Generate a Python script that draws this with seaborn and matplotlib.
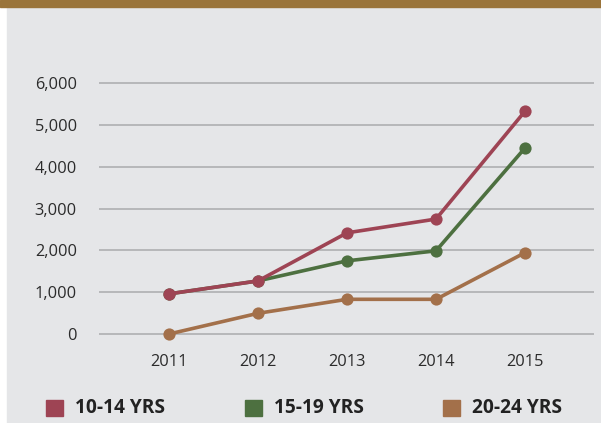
import pandas as pd
import matplotlib.pyplot as plt
from matplotlib.patches import Rectangle
from matplotlib.ticker import FuncFormatter
import seaborn as sns

# values
years = [2011, 2012, 2013, 2014, 2015]
age_10_14 = [960, 1270, 2420, 2750, 5330]
age_15_19 = [960, 1270, 1750, 1990, 4450]
age_20_24 = [0, 495, 830, 830, 1945]
groups = ["10-14 YRS", "15-19 YRS", "20-24 YRS"]
colors = ["#9e4454", "#4d7040", "#a3704a"]

df = pd.DataFrame({
    "year": years * 3,
    "value": age_10_14 + age_15_19 + age_20_24,
    "group": [g for g in groups for _ in years],
})

sns.set_style("white")
plt.rcParams["font.family"] = ["Open Sans", "DejaVu Sans"]

W, H = 601, 423
fig = plt.figure(figsize=(W / 100, H / 100), dpi=100)
fig.patch.set_facecolor("white")

# grey panel + brown band on top
fig.patches.append(Rectangle((7 / W, 0), 1, 1, transform=fig.transFigure,
                             color="#e5e6e8", zorder=-10))
fig.patches.append(Rectangle((0, 1 - 7.5 / H), 1, 7.5 / H, transform=fig.transFigure,
                             color="#9a743a", zorder=-9))

# axes placed in pixels: 0 at y=334, 41.8 px per 1000
left, right = 99, 594
top, bottom = 70, 350
ax = fig.add_axes([left / W, (H - bottom) / H, (right - left) / W, (bottom - top) / H])
ax.set_facecolor("none")

# x: 2011 at 169 px, 2015 at 525 px
px_per_year = (525 - 169) / 4
ax.set_xlim(2011 - (169 - left) / px_per_year, 2015 + (right - 525) / px_per_year)
ax.set_ylim(-(bottom - 334) / 0.0418, (334 - top) / 0.0418)

order = ["20-24 YRS", "15-19 YRS", "10-14 YRS"]
for g in order:
    c = colors[groups.index(g)]
    sns.lineplot(data=df[df["group"] == g], x="year", y="value", ax=ax, color=c,
                 linewidth=2.6, marker="o", markersize=8.8, markeredgewidth=0,
                 legend=False, clip_on=False, zorder=3)

ax.set_yticks(range(0, 7000, 1000))
ax.yaxis.set_major_formatter(FuncFormatter(lambda v, p: f"{int(v):,}"))
ax.set_xticks(years)
ax.set_xticklabels([str(y) for y in years])
ax.grid(axis="y", color="#a9aaac", linewidth=1.1)
ax.set_axisbelow(True)
for s in ax.spines.values():
    s.set_visible(False)
ax.tick_params(length=0, labelsize=11.8, colors="#2b2b2b")
ax.tick_params(axis="y", pad=16)
ax.tick_params(axis="x", pad=3)
ax.set_xlabel("")
ax.set_ylabel("")

# legend row
leg_x = [46, 245, 443]
for g, c, x in zip(groups, colors, leg_x):
    fig.patches.append(Rectangle((x / W, (H - 416) / H), 17 / W, 16 / H,
                                 transform=fig.transFigure, color=c))
    fig.text((x + 29) / W, (H - 408) / H, g, fontsize=13.8, fontweight="bold",
             color="#222222", va="center", ha="left")

fig.savefig("out.png", dpi=100)
